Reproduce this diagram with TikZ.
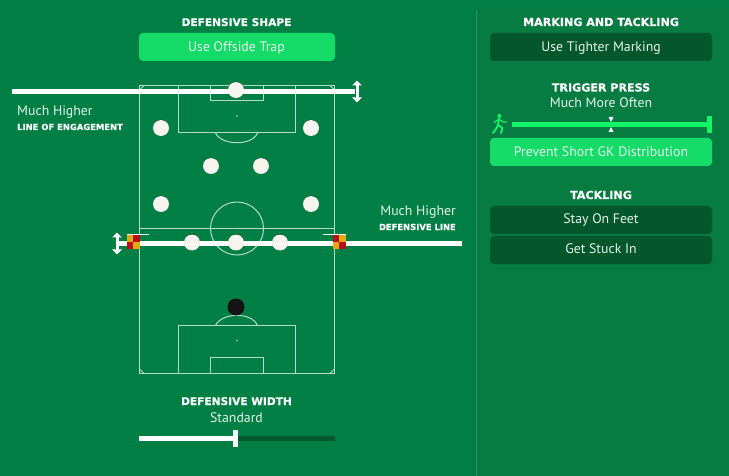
\documentclass[tikz,border=0pt]{standalone}
\usepackage{fontspec}
\setmainfont{PT Sans}
\newfontfamily\headfont{DejaVu Sans Bold}[FakeBold=0.25]
\usetikzlibrary{arrows.meta}
\definecolor{bgc}{HTML}{007F44}
\definecolor{panelc}{HTML}{067B42}
\definecolor{rulec}{HTML}{2A9360}
\definecolor{brightc}{HTML}{15DB69}
\definecolor{darkc}{HTML}{04562B}
\definecolor{pitchc}{HTML}{B5DCC5}
\definecolor{whitec}{HTML}{F8F5EE}
\definecolor{pressc}{HTML}{11F566}
\definecolor{flagr}{HTML}{B80F1C}
\definecolor{flagy}{HTML}{E2A912}
\definecolor{labelc}{HTML}{E4F5EA}
\tikzset{
  x=1pt,y=-1pt,
  title/.style={text=white,anchor=base,inner sep=0pt,font=\headfont\fontsize{10.6}{12}\selectfont},
  righttitle/.style={title,font=\headfont\fontsize{11.1}{12}\selectfont},
  smalltitle/.style={text=white,anchor=base,inner sep=0pt,font=\headfont\fontsize{8.4}{10}\selectfont},
  label/.style={text=labelc,anchor=base,inner sep=0pt,font=\fontsize{13.8}{16}\selectfont},
  btn/.style={rounded corners=4pt},
  pitchline/.style={draw=pitchc,line width=1pt},
  player/.style={circle,fill=whitec,minimum size=16pt,inner sep=0pt},
  shadow/.style={circle,fill=black,minimum size=15pt,inner sep=0pt},
  keeper/.style={circle,fill=black!92,minimum size=17pt,inner sep=0pt},
  bar/.style={line width=5pt},
  dbl/.style={draw=white,line width=3pt,{Triangle[width=9.5pt,length=5pt]}-{Triangle[width=9.5pt,length=5pt]}},
}
\begin{document}
\begin{tikzpicture}
\useasboundingbox (0,0) rectangle (729,476);
\fill[bgc] (0,0) rectangle (729,476);
% right panel
\fill[panelc] (476.5,10) -- (729,10) -- (729,476) -- (476.5,476) -- cycle;
\draw[rulec,line width=0.8pt] (476.5,10) -- (476.5,476);

% left column
\node[title] (shapeT) at (236.5,26) {DEFENSIVE SHAPE};
\fill[brightc,btn] (139,33) rectangle (335,61);
\node[label] (trap) at (236.5,51.5) {Use Offside Trap};

% pitch
\draw[pitchline] (139.5,85.5) rectangle (334.5,373.5);
\draw[pitchline] (139.5,228.5) -- (334.5,228.5);
\draw[pitchline] (237,228.5) circle (26.5);
\fill[pitchc] (237,228.5) circle (0.8);
\draw[pitchline] (178.5,85.5) rectangle (295.5,133);
\draw[pitchline] (210.5,85.5) rectangle (263.5,101);
\fill[pitchc] (237,116) circle (0.8);
\draw[pitchline] (215.5,133) .. controls (222,146) and (252,146) .. (257.5,133);
\draw[pitchline] (178.5,325.5) rectangle (295.5,373.5);
\draw[pitchline] (210.5,357) rectangle (263.5,373.5);
\fill[pitchc] (237,340.5) circle (0.8);
\draw[pitchline] (215.5,325.5) .. controls (222,312) and (252,312) .. (257.5,325.5);
\draw[pitchline] (334.5,90) -- (330,85.5);
\draw[pitchline] (139.5,90) -- (144,85.5);
\draw[pitchline] (139.5,369) -- (144,373.5);
\draw[pitchline] (334.5,369) -- (330,373.5);

% engagement line
\draw[white,bar] (12,91.5) -- (355,91.5);
\draw[dbl] (357,80.5) -- (357,102.5);
\node[label,anchor=base west] (engV) at (17,115.5) {Much Higher};
\node[smalltitle,anchor=base west] (engT) at (17,130) {LINE OF ENGAGEMENT};

% defensive line
\draw[white,bar] (117,243.5) -- (462,243.5);
\draw[dbl] (117,232.5) -- (117,254.5);
\node[label,anchor=base east] (defV) at (456,215) {Much Higher};
\node[smalltitle,anchor=base east] (defT) at (456,230) {DEFENSIVE LINE};

% flags
\fill[flagy] (126.5,234.5) rectangle (133,242);
\fill[flagr] (133,234.5) rectangle (139.5,242);
\fill[flagr] (126.5,242) rectangle (133,249.5);
\fill[flagy] (133,242) rectangle (139.5,249.5);
\draw[white,line width=0.8pt] (126.5,234.5) -- (149,234.5);
\fill[flagr] (333,234.5) rectangle (339.3,242);
\fill[flagy] (339.3,234.5) rectangle (345.5,242);
\fill[flagy] (333,242) rectangle (339.3,249.5);
\fill[flagr] (339.3,242) rectangle (345.5,249.5);
\draw[white,line width=0.8pt] (323,234.5) -- (345.5,234.5);

% players
\foreach \n/\px/\py in {a/236/90,b/161/128,c/311/128,d/211/166,e/261/166,f/161/204,g/311/204,h/192/242.5,i/236/242.5,j/280/242.5}{
  \node[shadow] (s\n) at (\px,\py-0.8) {};
  \node[player] (p\n) at (\px,\py) {};
}
\node[keeper] (gk) at (236,307) {};

% width slider
\node[title] (widthT) at (236.5,405) {DEFENSIVE WIDTH};
\node[label] (widthV) at (236.5,422) {Standard};
\draw[darkc,bar] (235,438) -- (335,438);
\draw[white,bar] (139,438) -- (235,438);
\fill[white] (233,430) rectangle (238,447);

% right column
\node[righttitle] (markT) at (601,26) {MARKING AND TACKLING};
\fill[darkc,btn] (490,33) rectangle (712,61);
\node[label] (mark) at (601,51.5) {Use Tighter Marking};
\node[righttitle] (pressT) at (601,91.5) {TRIGGER PRESS};
\node[label] (pressV) at (601,108) {Much More Often};
\draw[pressc,bar] (512,124.3) -- (712,124.3);
\fill[pressc] (707,116) rectangle (712,133);
\fill[white] (608.5,117) -- (613.5,117) -- (611,122) -- cycle;
\fill[white] (608.5,132) -- (613.5,132) -- (611,127) -- cycle;
\begin{scope}[draw=pressc,fill=pressc,line width=1.9pt,line join=round,line cap=round]
  \fill (499.3,116) circle (2);
  \draw (499,119) -- (498,125) -- (502.5,128) -- (501,133);
  \draw (498,125) -- (496,129) -- (493,133);
  \draw[line width=1.2pt] (499,119) -- (494,122.5);
  \draw[line width=1.2pt] (499,119) -- (503,122) -- (506.5,122);
\end{scope}
\fill[brightc,btn] (490,138) rectangle (712,166);
\node[label] (gkd) at (601,156.5) {Prevent Short GK Distribution};
\node[righttitle] (tackT) at (601,199) {TACKLING};
\fill[darkc,btn] (490,206) rectangle (712,234);
\node[label] (feet) at (601,224) {Stay On Feet};
\fill[darkc,btn] (490,236) rectangle (712,264);
\node[label] (stuck) at (601,254) {Get Stuck In};
\end{tikzpicture}
\end{document}
